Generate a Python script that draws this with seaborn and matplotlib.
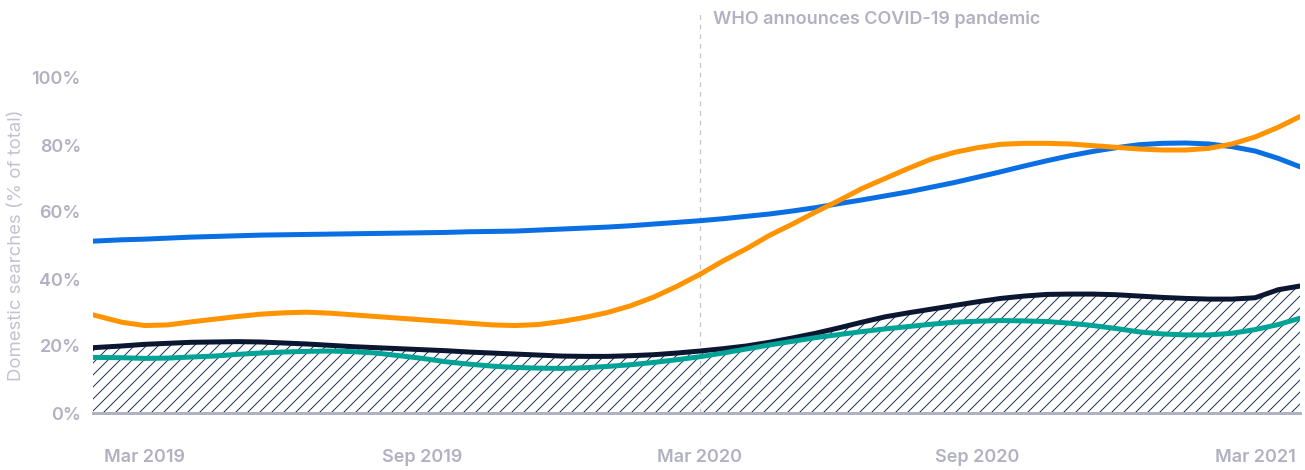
import matplotlib
matplotlib.use("Agg")
import matplotlib.pyplot as plt
import seaborn as sns
import pandas as pd

# Half-month offsets from Mar 2019 (0 = Mar 2019, 24 = Mar 2021)
months = [-1.12, -0.5, 0, 0.5, 1, 1.5, 2, 2.5, 3, 3.5, 4, 4.5, 5, 5.5, 6, 6.5,
          7, 7.5, 8, 8.5, 9, 9.5, 10, 10.5, 11, 11.5, 12, 12.5, 13, 13.5, 14,
          14.5, 15, 15.5, 16, 16.5, 17, 17.5, 18, 18.5, 19, 19.5, 20, 20.5, 21,
          21.5, 22, 22.5, 23, 23.5, 24, 24.5, 24.97]

blue = [51.3, 51.7, 51.9, 52.2, 52.5, 52.7, 52.9, 53.1, 53.2, 53.3, 53.4, 53.5,
        53.6, 53.7, 53.8, 53.9, 54.1, 54.2, 54.3, 54.6, 54.9, 55.2, 55.5, 55.9,
        56.4, 56.9, 57.4, 58.0, 58.7, 59.4, 60.3, 61.3, 62.5, 63.6, 64.8, 66.0,
        67.4, 68.8, 70.4, 72.0, 73.7, 75.3, 76.8, 78.1, 79.2, 80.1, 80.5, 80.6,
        80.3, 79.5, 78.2, 76.0, 73.5]
orange = [29.3, 27.1, 26.1, 26.3, 27.2, 28.0, 28.8, 29.5, 29.9, 30.1, 29.8, 29.3,
          28.8, 28.3, 27.8, 27.3, 26.8, 26.3, 26.1, 26.4, 27.3, 28.5, 30.0, 32.0,
          34.6, 37.8, 41.4, 45.4, 49.0, 53.0, 56.4, 60.0, 63.4, 67.0, 70.0, 73.0,
          75.8, 77.8, 79.2, 80.2, 80.5, 80.5, 80.3, 79.8, 79.3, 78.8, 78.5, 78.5,
          79.0, 80.3, 82.4, 85.3, 88.5]
navy = [19.5, 20.0, 20.5, 20.8, 21.1, 21.2, 21.3, 21.2, 20.9, 20.6, 20.2, 19.8,
        19.5, 19.2, 18.9, 18.6, 18.2, 17.9, 17.6, 17.3, 17.0, 16.9, 16.9, 17.1,
        17.4, 17.9, 18.5, 19.2, 20.0, 21.1, 22.4, 23.8, 25.4, 27.1, 28.7, 29.9,
        31.0, 32.1, 33.2, 34.2, 34.9, 35.4, 35.5, 35.5, 35.3, 34.9, 34.5, 34.2,
        34.0, 34.0, 34.4, 36.8, 37.9]
teal = [16.6, 16.5, 16.3, 16.4, 16.7, 17.0, 17.5, 17.9, 18.2, 18.4, 18.5, 18.3,
        17.9, 17.1, 16.3, 15.3, 14.6, 14.0, 13.6, 13.4, 13.3, 13.5, 13.9, 14.4,
        15.1, 15.9, 16.8, 17.9, 19.1, 20.3, 21.4, 22.5, 23.4, 24.3, 25.1, 25.8,
        26.5, 27.1, 27.4, 27.6, 27.5, 27.3, 26.8, 26.1, 25.2, 24.2, 23.6, 23.3,
        23.3, 23.8, 24.9, 26.4, 28.3]

tick_pos = [0, 6, 12, 18, 24]
tick_labels = ["Mar 2019", "Sep 2019", "Mar 2020", "Sep 2020", "Mar 2021"]
y_ticks = [0, 20, 40, 60, 80, 100]
y_tick_labels = ["0%", "20%", "40%", "60%", "80%", "100%"]
event_month = 12
event_label = "WHO announces COVID-19 pandemic"

sns.set_theme(style="white")
plt.rcParams["font.family"] = ["Inter", "DejaVu Sans"]
plt.rcParams["hatch.linewidth"] = 1.0

GRAY = "#b1b1c2"
colors = {"blue": "#0a6fe3", "orange": "#ff9300", "navy": "#0b1631", "teal": "#00a396"}

series = {"blue": blue, "orange": orange, "navy": navy, "teal": teal}
df = pd.concat(
    [pd.DataFrame({"month": months, "value": vals, "series": name})
     for name, vals in series.items()],
    ignore_index=True,
)

fig = plt.figure(figsize=(1305 / 72, 470 / 72), dpi=72)
ax = fig.add_axes([93 / 1305, 1 - 413 / 470, 1207 / 1305, 402 / 470])

# hatched area beneath the navy series
ax.fill_between(months, 0, navy, facecolor="white", edgecolor="#1f3558",
                hatch="//", linewidth=0, zorder=1)

for name, z in [("navy", 3), ("teal", 4), ("blue", 5), ("orange", 6)]:
    sns.lineplot(data=df[df["series"] == name], x="month", y="value",
                 color=colors[name], linewidth=5, ax=ax, zorder=z,
                 solid_capstyle="round", solid_joinstyle="round",
                 estimator=None, legend=False)

ax.axvline(event_month, color="#c4c4cf", linestyle=(0, (4, 4)),
           linewidth=1.2, zorder=2)
ax.text(event_month + 0.28, 117.5, event_label, color=GRAY, fontsize=18,
        fontweight="semibold", va="center", ha="left")

ax.set_xlim(-1.12, 24.97)
ax.set_ylim(0, 120)
ax.set_xticks(tick_pos)
ax.set_xticklabels(tick_labels)
ax.set_yticks(y_ticks)
ax.set_yticklabels(y_tick_labels)
ax.tick_params(axis="x", length=0, pad=36, labelsize=18, labelcolor=GRAY)
ax.tick_params(axis="y", length=0, pad=12, labelsize=18, labelcolor=GRAY)
for lbl in ax.get_xticklabels() + ax.get_yticklabels():
    lbl.set_fontweight("semibold")

ax.set_xlabel("")
ax.set_ylabel("Domestic searches (% of total)", color="#c3c3cf", fontsize=18.5)
# centre the axis title on the 0-100% span
ax.yaxis.set_label_coords(-0.056, 50 / 120)

for side in ["top", "right", "left"]:
    ax.spines[side].set_visible(False)
ax.spines["bottom"].set_color(GRAY)
ax.spines["bottom"].set_linewidth(3)
ax.spines["bottom"].set_zorder(7)

fig.savefig("out.png", dpi=72)
